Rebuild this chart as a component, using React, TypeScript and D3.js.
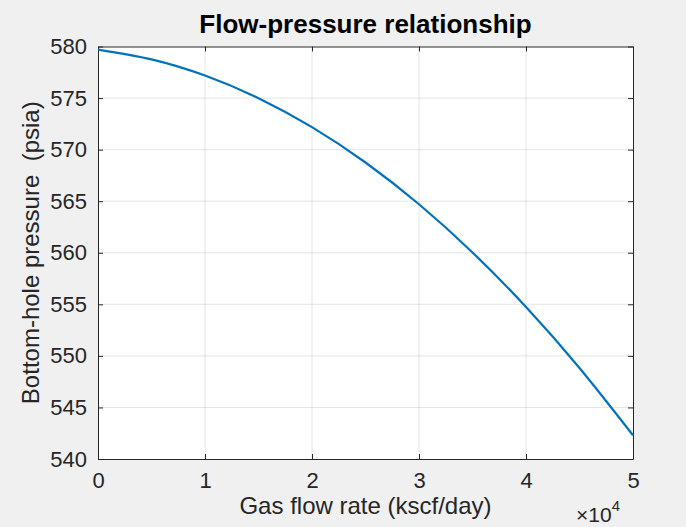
import { axisBottom, axisLeft, axisRight, axisTop, curveNatural, line, scaleLinear, select } from 'd3'
import { useEffect, useRef } from 'react'

// flow rate in units of 1e4 kscf/day
const flowRates = [0, 0.5, 1, 1.5, 2, 2.5, 3, 3.5, 4, 4.5, 5]
const pressures = [579.7, 578.75, 577.18, 574.99, 572.18, 568.75, 564.7, 560.03, 554.74, 548.83, 542.3]
const xTicks = [0, 1, 2, 3, 4, 5]
const yTicks = [540, 545, 550, 555, 560, 565, 570, 575, 580]

const W = 686
const H = 527
const margin = { left: 98, right: 53, top: 46.5, bottom: 68 }
const font = '"Liberation Sans", Arial, Helvetica, sans-serif'
const axisColor = '#262626'

export default function App() {
    const ref = useRef(null)

    useEffect(() => {
        const svg = select(ref.current)
        svg.selectAll('*').remove()

        const x = scaleLinear().domain([0, 5]).range([margin.left, W - margin.right])
        const y = scaleLinear().domain([540, 580]).range([H - margin.bottom, margin.top])

        svg.append('rect').attr('width', W).attr('height', H).attr('fill', '#f0f0f0')
        svg.append('rect')
            .attr('x', margin.left).attr('y', margin.top)
            .attr('width', x(5) - x(0)).attr('height', y(540) - y(580))
            .attr('fill', '#fff')

        // grid
        const grid = svg.append('g').attr('stroke', axisColor).attr('stroke-opacity', 0.12).attr('stroke-width', 1)
        xTicks.slice(1, -1).forEach(t => {
            grid.append('line').attr('x1', x(t)).attr('x2', x(t)).attr('y1', y(540)).attr('y2', y(580))
        })
        yTicks.slice(1, -1).forEach(t => {
            grid.append('line').attr('x1', x(0)).attr('x2', x(5)).attr('y1', y(t)).attr('y2', y(t))
        })

        const styleAxis = (g, showLabels) => {
            g.select('.domain').attr('stroke', axisColor).attr('stroke-width', 1)
            g.selectAll('.tick line').attr('stroke', axisColor)
            g.selectAll('.tick text')
                .attr('fill', axisColor)
                .style('font-family', font)
                .style('font-size', '22px')
                .style('display', showLabels ? null : 'none')
        }

        svg.append('g')
            .attr('transform', `translate(0,${y(540)})`)
            .call(axisBottom(x).tickValues(xTicks).tickSize(-5).tickPadding(13).tickSizeOuter(0).tickFormat(d => String(d)))
            .call(g => styleAxis(g, true))
        svg.append('g')
            .attr('transform', `translate(0,${y(580)})`)
            .call(axisTop(x).tickValues(xTicks).tickSize(-5).tickSizeOuter(0))
            .call(g => styleAxis(g, false))
        svg.append('g')
            .attr('transform', `translate(${x(0)},0)`)
            .call(axisLeft(y).tickValues(yTicks).tickSize(-5).tickPadding(11).tickSizeOuter(0))
            .call(g => styleAxis(g, true))
        svg.append('g')
            .attr('transform', `translate(${x(5)},0)`)
            .call(axisRight(y).tickValues(yTicks).tickSize(-5).tickSizeOuter(0))
            .call(g => styleAxis(g, false))

        const curve = line()
            .curve(curveNatural)
            .x((d, i) => x(flowRates[i]))
            .y(d => y(d))

        svg.append('path')
            .datum(pressures)
            .attr('fill', 'none')
            .attr('stroke', '#0072BD')
            .attr('stroke-width', 2.2)
            .attr('d', curve)

        svg.append('text')
            .attr('x', (x(0) + x(5)) / 2).attr('y', 33)
            .attr('text-anchor', 'middle')
            .attr('fill', '#000')
            .style('font-family', font).style('font-size', '26px').style('font-weight', 'bold')
            .text('Flow-pressure relationship')

        svg.append('text')
            .attr('x', (x(0) + x(5)) / 2).attr('y', 514)
            .attr('text-anchor', 'middle')
            .attr('fill', axisColor)
            .style('font-family', font).style('font-size', '24px')
            .text('Gas flow rate (kscf/day)')

        svg.append('text')
            .attr('transform', `translate(39,${(y(540) + y(580)) / 2}) rotate(-90)`)
            .attr('text-anchor', 'middle')
            .attr('fill', axisColor)
            .style('font-family', font).style('font-size', '24px')
            .style('white-space', 'pre')
            .text('Bottom-hole pressure  (psia)')

        const exp = svg.append('text')
            .attr('x', 576).attr('y', 522)
            .attr('fill', axisColor)
            .style('font-family', font).style('font-size', '21px')
        exp.append('tspan').text('\u00d710')
        exp.append('tspan').attr('dy', -11).style('font-size', '15px').text('4')
    }, [])

    return (
        <svg ref={ref} width={W} height={H} style={{ position: 'absolute', left: 0, top: 0, display: 'block' }} />
    )
}
